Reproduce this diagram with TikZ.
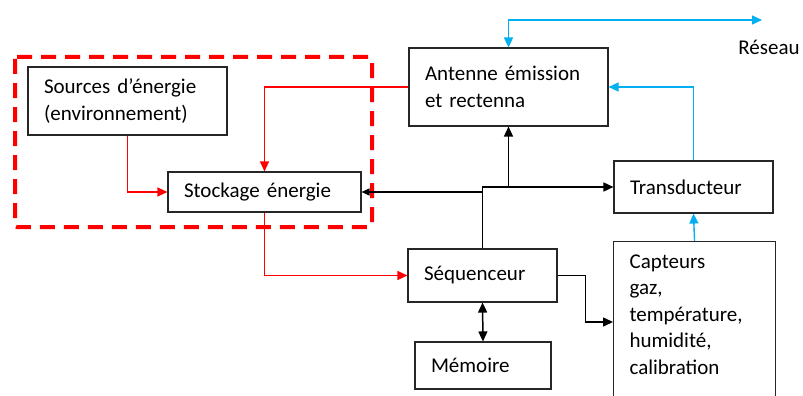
\documentclass[tikz,border=0pt]{standalone}
\usepackage{fontspec}
\setmainfont{Carlito}
\usepackage{tikz}
\usetikzlibrary{arrows.meta,positioning,calc}
\definecolor{Frame}{HTML}{262626}
\definecolor{PowerRed}{HTML}{FF0000}
\definecolor{NetBlue}{HTML}{00B0F0}
\tikzset{
  block/.style={draw=Frame,line width=1.1pt,fill=white,inner xsep=16pt,inner ysep=0pt,align=left,font=\fontsize{21}{26.5}\selectfont},
  tag/.style={inner sep=0pt,font=\fontsize{21}{26.5}\selectfont},
  tip/.style={-{Triangle[length=10pt,width=9pt]}},
  link/.style={tip,line width=1.5pt,draw=black},
  power/.style={tip,line width=1.2pt,draw=PowerRed},
  radio/.style={tip,line width=1.4pt,draw=NetBlue},
  zone/.style={draw=PowerRed,line width=4pt,dash pattern=on 15pt off 9pt,rounded corners=2pt}
}
\begin{document}
\begin{tikzpicture}[x=1pt,y=-1pt]
  \useasboundingbox (0,0) rectangle (803,396);
  % energy part
  \draw[zone] (15,57) rectangle (372,227);
  \node[block,text width=167pt,minimum height=68pt] (src) at (127.5,101) {Sources d’énergie\\(environnement)};
  \node[block,text width=161pt,minimum height=40pt] (stock) at (264.5,192) {Stockage énergie};
  % radio and control
  \node[block,text width=167pt,minimum height=78pt] (ant) at (508.5,87) {Antenne émission\\et rectenna};
  \node[block,text width=127pt,minimum height=52pt] (trans) at (693.5,187) {Transducteur};
  \node[block,text width=117pt,minimum height=53pt] (seq) at (482.5,275.5) {Séquenceur};
  \node[block,text width=104pt,minimum height=47pt] (mem) at (483,365.5) {Mémoire};
  \node[block,text width=130pt,inner ysep=13pt,anchor=north west] (capt) at (613,241) {Capteurs\\gaz,\\température,\\humidité,\\calibration\rule[-40pt]{0pt}{40pt}};
  \node[tag] (res) at (769,47) {Réseau};
  \coordinate (net) at (762,20);
  \coordinate (split) at (ant.south |- trans.west);
  \coordinate (tap) at (seq.north |- stock.east);
  \coordinate (cin) at (613,322);
  % power lines
  \draw[power] (src.south) |- (stock.west);
  \draw[power] (ant.west) -| (stock.north);
  \draw[power] (stock.south) |- (seq.west);
  % network lines
  \draw[radio,{Triangle[length=10pt,width=9pt]}-{Triangle[length=10pt,width=9pt]}] (ant.north) |- (net);
  \draw[radio] (trans.north) |- (ant.east);
  \draw[radio] (capt.north) -- (trans.south);
  % control lines
  \draw[link] (seq.north) |- (trans.west);
  \draw[link] (split) -- (ant.south);
  \draw[link,-{Triangle[length=8pt,width=7pt]}] (tap) -- (stock.east);
  \draw[link] (seq.east) -- ++(28,0) |- (cin);
  \draw[link,{Triangle[length=10pt,width=9pt]}-{Triangle[length=10pt,width=9pt]}] (seq.south) -- (mem.north);
\end{tikzpicture}
\end{document}
